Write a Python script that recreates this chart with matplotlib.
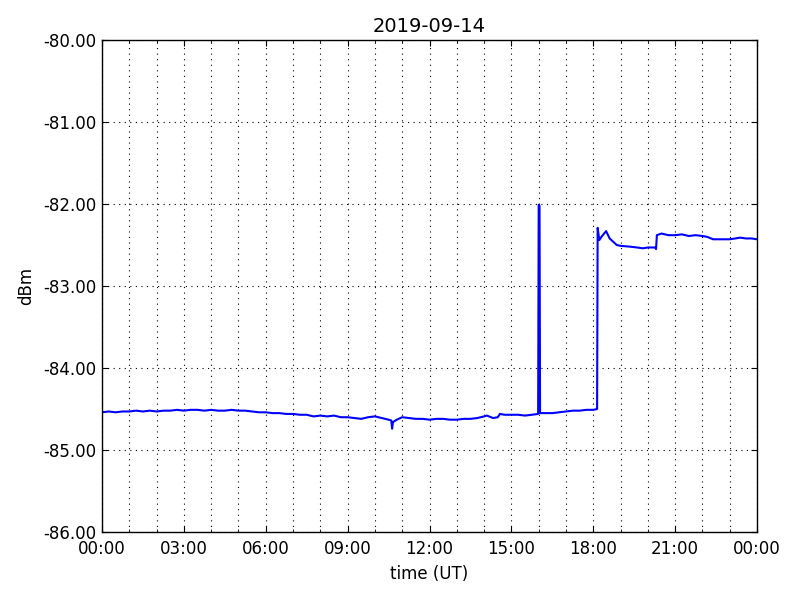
import matplotlib
matplotlib.use("Agg")
import matplotlib.pyplot as plt
import matplotlib.dates as mdates
import matplotlib.ticker as mticker
import pandas as pd

title = "2019-09-14"
hours = [0.00, 0.25, 0.50, 0.75, 1.00, 1.25, 1.50, 1.75, 2.00, 2.25, 2.50, 2.75,
         3.00, 3.25, 3.50, 3.75, 4.00, 4.25, 4.50, 4.75, 5.00, 5.25, 5.50, 5.75,
         6.00, 6.25, 6.50, 6.75, 7.00, 7.25, 7.50, 7.75, 8.00, 8.25, 8.50, 8.75,
         9.00, 9.25, 9.50, 9.75, 10.00, 10.25, 10.50, 10.60, 10.63, 10.66, 10.80,
         11.00, 11.25, 11.50, 11.75, 12.00, 12.25, 12.50, 12.75, 13.00, 13.25,
         13.50, 13.75, 14.00, 14.10, 14.33, 14.50, 14.58, 14.75, 15.00, 15.25,
         15.50, 15.75, 15.98, 16.00, 16.03, 16.05, 16.25, 16.50, 16.75, 17.00,
         17.25, 17.50, 17.75, 18.00, 18.14, 18.16, 18.22, 18.30, 18.47, 18.60,
         18.86, 19.00, 19.35, 19.60, 19.82, 20.00, 20.26, 20.30, 20.33, 20.50,
         20.75, 21.00, 21.25, 21.50, 21.75, 22.00, 22.17, 22.39, 22.75, 23.00,
         23.20, 23.38, 23.60, 23.80, 24.00]
dbm = [-84.54, -84.53, -84.54, -84.53, -84.53, -84.52, -84.53, -84.52, -84.53, -84.52, -84.52, -84.51,
       -84.52, -84.51, -84.51, -84.52, -84.51, -84.52, -84.52, -84.51, -84.52, -84.52, -84.53, -84.54,
       -84.54, -84.55, -84.55, -84.56, -84.56, -84.57, -84.57, -84.59, -84.58, -84.59, -84.58, -84.60,
       -84.60, -84.61, -84.62, -84.60, -84.59, -84.61, -84.63, -84.64, -84.74, -84.66, -84.63,
       -84.60, -84.61, -84.62, -84.62, -84.63, -84.62, -84.62, -84.63, -84.63, -84.62,
       -84.62, -84.61, -84.59, -84.58, -84.61, -84.60, -84.56, -84.57, -84.57, -84.57,
       -84.58, -84.57, -84.56, -82.01, -82.02, -84.55, -84.55, -84.55, -84.54, -84.53,
       -84.52, -84.52, -84.51, -84.51, -84.50, -82.29, -82.44, -82.40, -82.33, -82.42,
       -82.50, -82.51, -82.52, -82.53, -82.54, -82.53, -82.53, -82.55, -82.38, -82.36,
       -82.38, -82.38, -82.37, -82.39, -82.38, -82.39, -82.40, -82.43, -82.43, -82.43,
       -82.42, -82.41, -82.42, -82.42, -82.43]
y_min, y_max = -86.0, -80.0

plt.rcParams['axes.unicode_minus'] = False
plt.rcParams['font.family'] = ['DejaVu Sans']

start = pd.Timestamp("2019-09-14")
times = start + pd.to_timedelta(hours, unit="h")

fig = plt.figure(figsize=(8, 6), dpi=100)
ax = fig.add_axes([0.1275, 0.1133, 0.8188, 0.82])
ax.plot(times, dbm, color="blue", linewidth=1.5)
ax.set_xlim(start, start + pd.Timedelta(hours=24))
ax.set_ylim(y_min, y_max)

ax.xaxis.set_major_locator(mdates.HourLocator(byhour=range(0, 24, 3)))
ax.xaxis.set_minor_locator(mdates.HourLocator())
ax.xaxis.set_major_formatter(mdates.DateFormatter("%H:%M"))
ax.yaxis.set_major_locator(mticker.MultipleLocator(1.0))
ax.yaxis.set_major_formatter(mticker.FormatStrFormatter("%.2f"))

ax.tick_params(which="both", direction="in", top=True, right=True, labelsize=12)
ax.tick_params(which="major", length=4, width=0.8)
ax.tick_params(which="minor", length=2, width=0.6)
ax.tick_params(axis="x", which="major", pad=6)
ax.tick_params(axis="y", which="major", pad=4)
grid_style = dict(color="black", linestyle=(0, (1, 4)), linewidth=0.8)
ax.grid(True, which="major", axis="both", **grid_style)
ax.grid(True, which="minor", axis="x", **grid_style)
for s in ax.spines.values():
    s.set_linewidth(1.0)

ax.set_title(title, fontsize=14)
ax.set_xlabel("time (UT)", fontsize=12, labelpad=5)
ax.set_ylabel("dBm", fontsize=12, labelpad=6)

fig.savefig("out.png", dpi=100)
